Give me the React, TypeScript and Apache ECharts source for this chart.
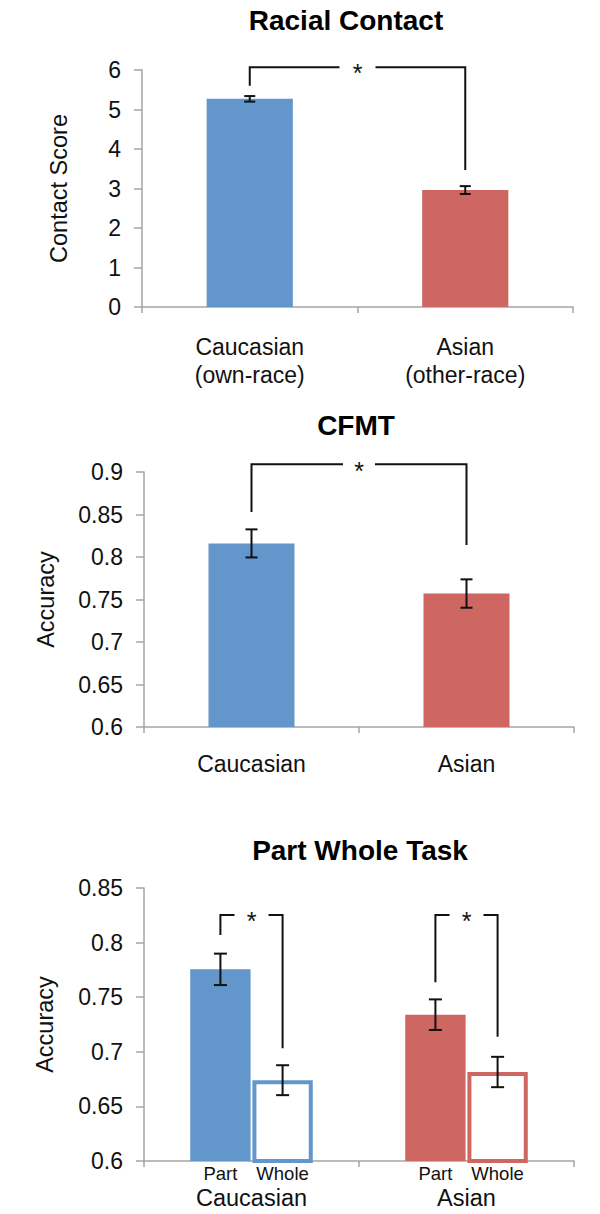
import React, { useEffect, useRef } from "react";
import * as echarts from "echarts";

// ---------- data ----------
const CONTACT_CATEGORIES = ["Caucasian\n(own-race)", "Asian\n(other-race)"];
const CONTACT_MEANS = [5.27, 2.96];
const CONTACT_ERRORS = [0.07, 0.1];
const CONTACT_BRACKET = [5.6, 6.07, 3.47]; // left end, top, right end

const CFMT_CATEGORIES = ["Caucasian", "Asian"];
const CFMT_MEANS = [0.816, 0.757];
const CFMT_ERRORS = [0.0165, 0.0167];
const CFMT_BRACKET = [0.853, 0.909, 0.814];

const PW_CATEGORIES = ["Caucasian", "Asian"];
const PW_PART = [0.7755, 0.734];
const PW_PART_ERR = [0.0144, 0.014];
const PW_WHOLE = [0.674, 0.6815];
const PW_WHOLE_ERR = [0.0137, 0.0139];
const PW_BRACKETS = [
  [0.807, 0.8253, 0.7032],
  [0.7637, 0.8253, 0.7138],
];

const CAT_COLORS = ["#6396CA", "#CE6761"];

// ---------- style ----------
const FONT = "'Liberation Sans', Arial, Helvetica, sans-serif";
const AXIS_COLOR = "#a5a5a5";
const INK = "#111111";

function subOffset(band: number, subCount: number, subIndex: number, catGap: number, barGap: number) {
  if (subCount === 1) return 0;
  const usable = band * (1 - catGap);
  const w = usable / (subCount + (subCount - 1) * barGap);
  const start = -usable / 2 + w / 2;
  return start + subIndex * w * (1 + barGap);
}

function errorRenderer(subCount: number, subIndex: number, catGap: number, barGap: number, capHalf: number) {
  return (params: any, api: any) => {
    const cat = api.value(0);
    const lo = api.value(1);
    const hi = api.value(2);
    const band = api.size([1, 0])[0];
    const dx = subOffset(band, subCount, subIndex, catGap, barGap);
    const pt = api.coord([cat, hi]);
    const pb = api.coord([cat, lo]);
    const x = pt[0] + dx;
    const style = { stroke: INK, lineWidth: 2 };
    return {
      type: "group",
      children: [
        { type: "line", shape: { x1: x, y1: pt[1], x2: x, y2: pb[1] }, style },
        { type: "line", shape: { x1: x - capHalf, y1: pt[1], x2: x + capHalf, y2: pt[1] }, style },
        { type: "line", shape: { x1: x - capHalf, y1: pb[1], x2: x + capHalf, y2: pb[1] }, style },
      ],
    };
  };
}

function bracketRenderer(subCount: number, catGap: number, barGap: number, halfGap: number, fontSize: number) {
  return (params: any, api: any) => {
    const lc = api.value(0);
    const ls = api.value(1);
    const rc = api.value(2);
    const rs = api.value(3);
    const ly = api.value(4);
    const ty = api.value(5);
    const ry = api.value(6);
    const band = api.size([1, 0])[0];
    const xl = api.coord([lc, ty])[0] + subOffset(band, subCount, ls, catGap, barGap);
    const xr = api.coord([rc, ty])[0] + subOffset(band, subCount, rs, catGap, barGap);
    const yt = api.coord([lc, ty])[1];
    const yl = api.coord([lc, ly])[1];
    const yr = api.coord([rc, ry])[1];
    const mid = (xl + xr) / 2;
    const style = { stroke: INK, lineWidth: 2, fill: null };
    return {
      type: "group",
      children: [
        { type: "polyline", shape: { points: [[xl, yl], [xl, yt], [mid - halfGap, yt]] }, style },
        { type: "polyline", shape: { points: [[mid + halfGap, yt], [xr, yt], [xr, yr]] }, style },
        {
          type: "text",
          x: mid,
          y: yt + fontSize * 0.25,
          style: {
            text: "*",
            fill: INK,
            font: `${fontSize}px ${FONT}`,
            textAlign: "center",
            textVerticalAlign: "middle",
          },
        },
      ],
    };
  };
}

function fmt(v: number) {
  return String(Math.round(v * 100) / 100);
}

function xAxisCfg(gridIndex: number, data: string[], margin: number, lineHeight: number) {
  return {
    type: "category",
    gridIndex,
    data,
    boundaryGap: true,
    axisLine: { show: true, lineStyle: { color: AXIS_COLOR, width: 1.5 } },
    axisTick: { show: true, alignWithLabel: false, inside: false, length: 6, lineStyle: { color: AXIS_COLOR, width: 1.5 } },
    axisLabel: { margin, fontSize: 23, color: INK, fontFamily: FONT, lineHeight },
    splitLine: { show: false },
  };
}

function yAxisCfg(gridIndex: number, min: number, max: number, interval: number, name: string, nameGap: number) {
  return {
    type: "value",
    gridIndex,
    min,
    max,
    interval,
    name,
    nameLocation: "middle",
    nameGap,
    nameTextStyle: { fontSize: 23.5, color: INK, fontFamily: FONT },
    axisLine: { show: true, lineStyle: { color: AXIS_COLOR, width: 1.5 } },
    axisTick: { show: true, inside: false, length: 8, lineStyle: { color: AXIS_COLOR, width: 1.5 } },
    axisLabel: { margin: 21, fontSize: 23, color: INK, fontFamily: FONT, formatter: fmt },
    splitLine: { show: false },
  };
}

export default function App() {
  const ref = useRef<HTMLDivElement>(null);

  useEffect(() => {
    if (!ref.current) return;
    const chart = echarts.init(ref.current, undefined, { renderer: "svg" });

    const contactErr = CONTACT_MEANS.map((m, i) => [i, m - CONTACT_ERRORS[i], m + CONTACT_ERRORS[i]]);
    const cfmtErr = CFMT_MEANS.map((m, i) => [i, m - CFMT_ERRORS[i], m + CFMT_ERRORS[i]]);
    const partErr = PW_PART.map((m, i) => [i, m - PW_PART_ERR[i], m + PW_PART_ERR[i]]);
    const wholeErr = PW_WHOLE.map((m, i) => [i, m - PW_WHOLE_ERR[i], m + PW_WHOLE_ERR[i]]);

    const PW_CAT_GAP = 0.43;
    const PW_BAR_GAP = 0.03;

    const option: any = {
      animation: false,
      textStyle: { fontFamily: FONT },
      graphic: [
        {
          type: "text",
          x: 346,
          y: 20,
          style: { text: "Racial Contact", font: `bold 28px ${FONT}`, fill: "#000", textAlign: "center", textVerticalAlign: "middle" },
        },
        {
          type: "text",
          x: 356,
          y: 425,
          style: { text: "CFMT", font: `bold 28px ${FONT}`, fill: "#000", textAlign: "center", textVerticalAlign: "middle" },
        },
        {
          type: "text",
          x: 360,
          y: 850,
          style: { text: "Part Whole Task", font: `bold 28px ${FONT}`, fill: "#000", textAlign: "center", textVerticalAlign: "middle" },
        },
      ],
      grid: [
        { left: 142, top: 70, width: 431, height: 237 },
        { left: 144, top: 472, width: 430, height: 255 },
        { left: 144, top: 888, width: 430, height: 273 },
      ],
      xAxis: [
        xAxisCfg(0, CONTACT_CATEGORIES, 26, 28),
        xAxisCfg(1, CFMT_CATEGORIES, 24, 26),
        { ...xAxisCfg(2, PW_CATEGORIES, 25, 26), axisLabel: { margin: 25, fontSize: 23.5, color: INK, fontFamily: FONT } },
      ],
      yAxis: [
        yAxisCfg(0, 0, 6, 1, "Contact Score", 71),
        yAxisCfg(1, 0.6, 0.9, 0.05, "Accuracy", 86),
        yAxisCfg(2, 0.6, 0.85, 0.05, "Accuracy", 87),
      ],
      series: [
        {
          type: "bar",
          name: "Racial Contact",
          xAxisIndex: 0,
          yAxisIndex: 0,
          barWidth: "40%",
          data: CONTACT_MEANS.map((v, i) => ({ value: v, itemStyle: { color: CAT_COLORS[i] } })),
        },
        {
          type: "custom",
          xAxisIndex: 0,
          yAxisIndex: 0,
          clip: false,
          encode: { x: 0, y: [1, 2] },
          renderItem: errorRenderer(1, 0, 0, 0, 5.5),
          data: contactErr,
          z: 5,
        },
        {
          type: "custom",
          xAxisIndex: 0,
          yAxisIndex: 0,
          clip: false,
          encode: { x: 0, y: 5 },
          renderItem: bracketRenderer(1, 0, 0, 18, 25),
          data: [[0, 0, 1, 0, CONTACT_BRACKET[0], CONTACT_BRACKET[1], CONTACT_BRACKET[2]]],
          z: 5,
        },
        {
          type: "bar",
          name: "CFMT",
          xAxisIndex: 1,
          yAxisIndex: 1,
          barWidth: "40%",
          data: CFMT_MEANS.map((v, i) => ({ value: v, itemStyle: { color: CAT_COLORS[i] } })),
        },
        {
          type: "custom",
          xAxisIndex: 1,
          yAxisIndex: 1,
          clip: false,
          encode: { x: 0, y: [1, 2] },
          renderItem: errorRenderer(1, 0, 0, 0, 6),
          data: cfmtErr,
          z: 5,
        },
        {
          type: "custom",
          xAxisIndex: 1,
          yAxisIndex: 1,
          clip: false,
          encode: { x: 0, y: 5 },
          renderItem: bracketRenderer(1, 0, 0, 16, 25),
          data: [[0, 0, 1, 0, CFMT_BRACKET[0], CFMT_BRACKET[1], CFMT_BRACKET[2]]],
          z: 5,
        },
        {
          type: "bar",
          name: "Part",
          xAxisIndex: 2,
          yAxisIndex: 2,
          barCategoryGap: `${PW_CAT_GAP * 100}%`,
          barGap: `${PW_BAR_GAP * 100}%`,
          label: { show: true, position: "bottom", distance: 3, formatter: "{a}", fontSize: 18.5, color: INK, fontFamily: FONT },
          data: PW_PART.map((v, i) => ({ value: v, itemStyle: { color: CAT_COLORS[i] } })),
        },
        {
          type: "bar",
          name: "Whole",
          xAxisIndex: 2,
          yAxisIndex: 2,
          barCategoryGap: `${PW_CAT_GAP * 100}%`,
          barGap: `${PW_BAR_GAP * 100}%`,
          label: { show: true, position: "bottom", distance: 1, formatter: "{a}", fontSize: 18.5, color: INK, fontFamily: FONT },
          data: PW_WHOLE.map((v, i) => ({
            value: v,
            itemStyle: { color: "#ffffff", borderColor: CAT_COLORS[i], borderWidth: 4 },
          })),
        },
        {
          type: "custom",
          xAxisIndex: 2,
          yAxisIndex: 2,
          clip: false,
          encode: { x: 0, y: [1, 2] },
          renderItem: errorRenderer(2, 0, PW_CAT_GAP, PW_BAR_GAP, 6.5),
          data: partErr,
          z: 5,
        },
        {
          type: "custom",
          xAxisIndex: 2,
          yAxisIndex: 2,
          clip: false,
          encode: { x: 0, y: [1, 2] },
          renderItem: errorRenderer(2, 1, PW_CAT_GAP, PW_BAR_GAP, 6.5),
          data: wholeErr,
          z: 5,
        },
        {
          type: "custom",
          xAxisIndex: 2,
          yAxisIndex: 2,
          clip: false,
          encode: { x: 0, y: 5 },
          renderItem: bracketRenderer(2, PW_CAT_GAP, PW_BAR_GAP, 17, 25),
          data: PW_BRACKETS.map((b, i) => [i, 0, i, 1, b[0], b[1], b[2]]),
          z: 5,
        },
      ],
    };

    chart.setOption(option);
    return () => chart.dispose();
  }, []);

  return (
    <div
      ref={ref}
      style={{ position: "absolute", left: 0, top: 0, width: 600, height: 1214, background: "#ffffff" }}
    />
  );
}
